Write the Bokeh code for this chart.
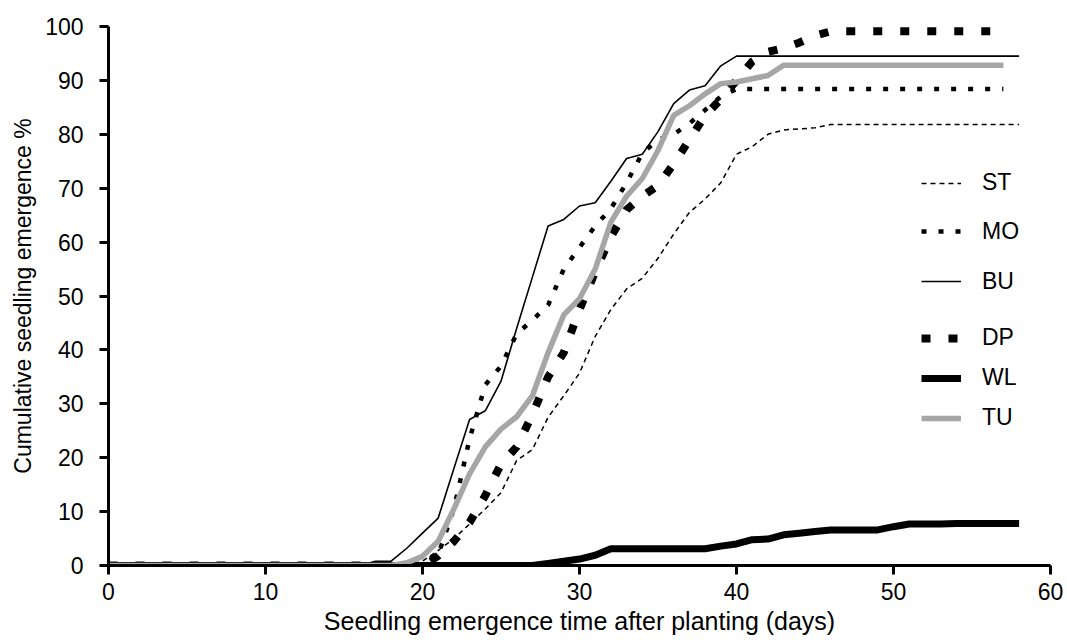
from bokeh.plotting import figure
from bokeh.models import Range1d, FixedTicker, Legend, LegendItem
from bokeh.embed import file_html
from bokeh.resources import INLINE

# ---- data (cumulative seedling emergence %, by day after planting) ----
days = list(range(0, 59))

st = [0]*20 + [0.8, 2.8, 5.0, 7.7, 10.5, 13.5, 19.5, 21.5, 27.5, 31.5,
               35.7, 42.5, 47.5, 51.3, 53.3, 57.0, 61.5, 65.5, 68.0, 71.0,
               76.3, 77.7, 80.0, 80.8, 81.0, 81.2] + [81.8]*13
mo = [0]*21 + [2.0, 10.5, 23.5, 33.5, 37.0, 43.0, 45.5, 48.3, 55.0,
               59.0, 63.0, 66.2, 71.0, 76.5, 79.0, 80.0, 82.0, 84.5, 87.0,
               88.4] + [88.4]*17
bu = [0]*17 + [0.8, 0.8, 3.2, 6.0, 8.8, 18.0, 27.1, 28.7, 34.2, 44.0,
               53.5, 63.0, 64.2, 66.7, 67.3, 71.3, 75.5, 76.3, 80.5, 85.7,
               88.2, 89.0, 92.7, 94.5] + [94.5]*18
dp = [0]*21 + [1.8, 4.5, 8.0, 13.0, 18.8, 22.0, 28.0, 35.0, 39.5, 47.5,
               54.5, 61.0, 66.0, 68.5, 70.5, 74.5, 79.0, 83.5, 86.5, 90.0,
               93.5, 95.3, 96.0, 97.0, 98.3, 99.1] + [99.1]*11
wl = [0]*28 + [0.4, 0.8, 1.2, 1.9, 3.1, 3.1, 3.1, 3.1, 3.1, 3.1, 3.1,
               3.6, 4.0, 4.8, 4.9, 5.7, 6.0, 6.3, 6.6, 6.6, 6.6, 6.6,
               7.2, 7.7, 7.7, 7.7, 7.8] + [7.8]*4
tu = [0]*19 + [0.5, 1.7, 4.5, 10.5, 17.0, 22.0, 25.3, 27.6, 31.5, 39.5,
               46.5, 49.5, 55.0, 63.7, 68.5, 71.8, 77.0, 83.5, 85.3, 87.5,
               89.4, 89.7, 90.3, 90.9, 92.8] + [92.8]*14

series_names = ["ST", "MO", "BU", "DP", "WL", "TU"]
x_ticks = [0, 10, 20, 30, 40, 50, 60]
y_ticks = [0, 10, 20, 30, 40, 50, 60, 70, 80, 90, 100]
x_title = "Seedling emergence time after planting (days)"
y_title = "Cumulative seedling emergence %"

FONT = "Liberation Sans"

p = figure(width=1067, height=643, output_backend="svg", toolbar_location=None,
           x_range=Range1d(0, 60), y_range=Range1d(0, 100),
           min_border_left=108, min_border_right=17,
           min_border_top=26, min_border_bottom=78)
p.outline_line_color = None
p.grid.visible = False
p.background_fill_color = "white"
p.border_fill_color = "white"

for ax, ticks in ((p.xaxis[0], x_ticks), (p.yaxis[0], y_ticks)):
    ax.ticker = FixedTicker(ticks=ticks)
    ax.axis_line_width = 3
    ax.axis_line_color = "black"
    ax.major_tick_line_width = 3
    ax.major_tick_line_color = "black"
    ax.major_tick_in = 0
    ax.major_tick_out = 9
    ax.minor_tick_line_color = None
    ax.major_label_text_font = FONT
    ax.major_label_text_font_size = "23px"
    ax.major_label_text_color = "black"
    ax.axis_label_text_font = FONT
    ax.axis_label_text_font_style = "normal"
    ax.axis_label_text_color = "black"

p.xaxis[0].axis_label = x_title
p.xaxis[0].axis_label_text_font_size = "25px"
p.xaxis[0].major_label_standoff = 8
p.xaxis[0].axis_label_standoff = 4
p.yaxis[0].axis_label = y_title
p.yaxis[0].axis_label_text_font_size = "23px"
p.yaxis[0].major_label_standoff = 16
p.yaxis[0].axis_label_standoff = 6

styles = {
    "ST": dict(y=st, line_color="black", line_width=1.5, line_dash="5 4"),
    "MO": dict(y=mo, line_color="black", line_width=4.5, line_dash="5 12"),
    "BU": dict(y=bu, line_color="black", line_width=1.6),
    "DP": dict(y=dp, line_color="black", line_width=8, line_dash="9 18"),
    "WL": dict(y=wl, line_color="black", line_width=7),
    "TU": dict(y=tu, line_color="#a6a6a6", line_width=5.5),
}
ends = {"ST": 59, "MO": 58, "BU": 59, "DP": 58, "WL": 59, "TU": 58}

renderers = {}
for name in series_names:
    s = dict(styles[name])
    yv = s.pop("y")
    n = ends[name]
    renderers[name] = p.line(days[:n], yv[:n], **s)

# legend: one box per entry (reference spacing is uneven)
leg_y = {"ST": 368.7, "MO": 320.3, "BU": 270.3, "DP": 213.7, "WL": 173.7, "TU": 133.7}
for name in series_names:
    lg = Legend(items=[LegendItem(label=name, renderers=[renderers[name]])],
                location=(813, leg_y[name]))
    lg.padding = 0
    lg.margin = 0
    lg.spacing = 0
    lg.border_line_color = None
    lg.background_fill_alpha = 0
    lg.glyph_width = 40
    lg.glyph_height = 26
    lg.label_height = 26
    lg.label_standoff = 21
    lg.label_text_font = FONT
    lg.label_text_font_size = "23px"
    lg.label_text_color = "black"
    p.add_layout(lg, "center")

open("out.html", "w").write(file_html(p, INLINE))
